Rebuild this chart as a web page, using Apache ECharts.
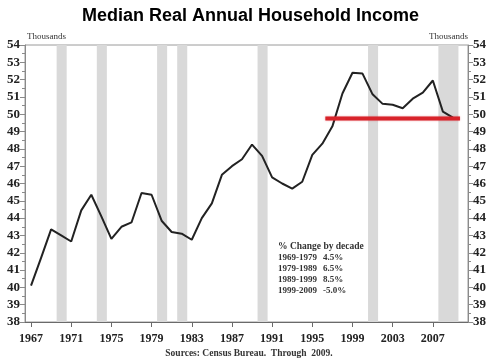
<!DOCTYPE html>
<html>
<head>
<meta charset="utf-8">
<script src="https://cdn.jsdelivr.net/npm/echarts@6/dist/echarts.min.js"></script>
<style>
html,body{margin:0;padding:0;background:#fff;}
#chart{width:501px;height:362px;}
</style>
</head>
<body>
<div id="chart"></div>
<script>
// Data
var years = [1967,1968,1969,1970,1971,1972,1973,1974,1975,1976,1977,1978,1979,1980,1981,1982,1983,1984,1985,1986,1987,1988,1989,1990,1991,1992,1993,1994,1995,1996,1997,1998,1999,2000,2001,2002,2003,2004,2005,2006,2007,2008,2009];
var income = [40.1,41.7,43.35,43.0,42.65,44.45,45.35,44.1,42.8,43.5,43.75,45.45,45.35,43.85,43.2,43.1,42.75,44.0,44.85,46.5,47.0,47.4,48.25,47.6,46.35,46.0,45.7,46.1,47.65,48.3,49.3,51.2,52.4,52.35,51.15,50.6,50.55,50.35,50.9,51.25,51.95,50.15,49.8];
var recessionYears = [[1970,1970],[1974,1974],[1980,1980],[1982,1982],[1990,1990],[2001,2001],[2008,2009]];
var levelLineYears = [1996.3, 2009.7];
var levelLineValue = 49.75;
var xTickYears = [1967,1971,1975,1979,1983,1987,1991,1995,1999,2003,2007];
var decadeLabels = ['1969-1979','1979-1989','1989-1999','1999-2009'];
var decadeChanges = ['4.5%','6.5%','8.5%','-5.0%'];

var serif = '"Liberation Serif","DejaVu Serif",serif';
var chart = echarts.init(document.getElementById('chart'), null, {renderer:'canvas'});

var lineData = years.map(function(y,i){return [y, income[i]];});
var areas = recessionYears.map(function(r){return [{xAxis:r[0]-0.45},{xAxis:r[1]+0.55}];});

var yAxisCommon = {
  type:'value', min:38, max:54, interval:1,
  axisLine:{show:true, lineStyle:{color:'#8a8a8a', width:1}},
  axisTick:{show:true, length:5, lineStyle:{color:'#8a8a8a'}},
  minorTick:{show:true, splitNumber:2, length:3, lineStyle:{color:'#8a8a8a'}},
  splitLine:{show:false},
  axisLabel:{fontFamily:serif, fontWeight:'bold', fontSize:13, color:'#222', margin:5}
};

var graphics = [
  {type:'text', left:27, top:32, style:{text:'Thousands', font:'9px '+serif, fill:'#333'}},
  {type:'text', left:429, top:32, style:{text:'Thousands', font:'9px '+serif, fill:'#333'}},
  {type:'text', left:278, top:242, style:{text:'% Change by decade', font:'bold 9.5px '+serif, fill:'#333'}},
  {type:'text', x:249, y:354, style:{text:'Sources: Census Bureau.  Through  2009.', font:'bold 9.5px '+serif, fill:'#333', textAlign:'center', textVerticalAlign:'middle'}}
];
decadeLabels.forEach(function(d,i){
  graphics.push({type:'text', left:278, top:253+i*10.9, style:{text:d, font:'bold 9px '+serif, fill:'#333'}});
  graphics.push({type:'text', left:323, top:253+i*10.9, style:{text:decadeChanges[i], font:'bold 9px '+serif, fill:'#333'}});
});

chart.setOption({
  animation:false,
  backgroundColor:'#fff',
  title:{text:'Median Real Annual Household Income', left:'center', top:2,
    textStyle:{fontFamily:'"Liberation Sans",Arial,sans-serif', fontWeight:'bold', fontSize:18, color:'#000'}},
  grid:{left:25, right:33, top:45, bottom:40, show:true, borderColor:'#9a9a9a', borderWidth:1},
  xAxis:{
    type:'value', min:1966.4, max:2010.5,
    axisLine:{show:true, lineStyle:{color:'#6a6a6a', width:1}},
    axisTick:{show:true, length:5, customValues:xTickYears, lineStyle:{color:'#6a6a6a'}},
    axisLabel:{customValues:xTickYears, formatter:function(v){return String(v);}, fontFamily:serif, fontWeight:'bold', fontSize:12, color:'#222', margin:11},
    splitLine:{show:false}
  },
  yAxis:[
    Object.assign({}, yAxisCommon, {position:'left'}),
    Object.assign({}, yAxisCommon, {position:'right'})
  ],
  series:[
    {type:'line', data:[], z:1, silent:true,
     markArea:{silent:true, itemStyle:{color:'#d9d9d9'}, data:areas}},
    {type:'line', data:lineData, z:3, symbol:'none', smooth:false,
     lineStyle:{color:'#222', width:2}},
    {type:'line', data:levelLineYears.map(function(x){return [x, levelLineValue];}), z:4, symbol:'none',
     lineStyle:{color:'#d8232a', width:4, shadowColor:'rgba(220,40,50,0.45)', shadowBlur:2}}
  ],
  graphic:graphics
});
</script>
</body>
</html>
